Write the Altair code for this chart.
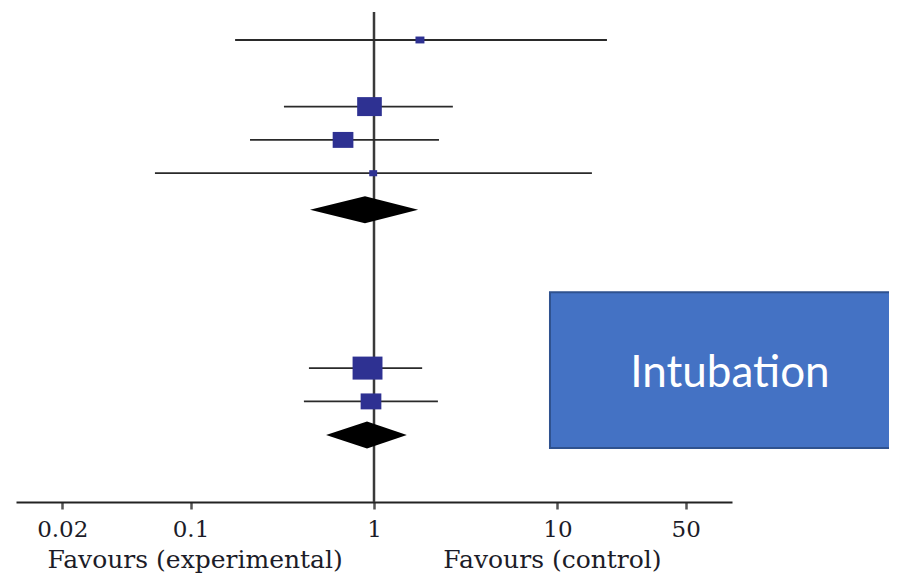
import altair as alt
import pandas as pd

# ---- data ----
study_row = [0, 2, 3, 4, 9.85, 10.85]
study_est = [1.78, 0.945, 0.678, 0.99, 0.922, 0.963]
study_lo = [0.175, 0.323, 0.211, 0.064, 0.442, 0.415]
study_hi = [18.6, 2.69, 2.26, 15.4, 1.83, 2.23]
study_weight = [9, 68, 48, 7, 100, 48]

pooled_row = [5.1, 11.86]
pooled_est = [0.893, 0.916]
pooled_lo = [0.448, 0.548]
pooled_hi = [1.74, 1.51]

tick_values = [0.02, 0.1, 1, 10, 50]
side_labels = ["Favours (experimental)", "Favours (control)"]
side_label_x = [0.106, 9.39]
side_label_row = [15.85, 15.85]

annotation_text = ["Intubation"]
annotation_x = [9.10, 736.0]
annotation_rows = [7.57, 12.25]
annotation_text_pos = [87.1, 10.41]

null_value = [1.0]
null_rows = [-0.84, 13.87]

# ---- tables ----
studies = pd.DataFrame({"row": study_row, "est": study_est, "lo": study_lo,
                        "hi": study_hi, "w": study_weight})

dia_h = 0.405
dia_records = []
for i, (r, e, l, h) in enumerate(zip(pooled_row, pooled_est, pooled_lo, pooled_hi)):
    dia_records += [
        {"g": i, "x": l, "y1": r, "y2": r},
        {"g": i, "x": e, "y1": r - dia_h, "y2": r + dia_h},
        {"g": i, "x": h, "y1": r, "y2": r},
    ]
diamonds = pd.DataFrame(dia_records)

labels = pd.DataFrame({"x": side_label_x, "row": side_label_row, "t": side_labels})
ref = pd.DataFrame({"x": null_value, "y1": [null_rows[0]], "y2": [null_rows[1]]})
box = pd.DataFrame({"x1": [annotation_x[0]], "x2": [annotation_x[1]],
                    "y1": [annotation_rows[0]], "y2": [annotation_rows[1]]})
box_txt = pd.DataFrame({"x": [annotation_text_pos[0]], "row": [annotation_text_pos[1]],
                        "t": annotation_text})

# ---- scales / axis ----
xs = alt.Scale(type="log", domain=[0.011194, 89.33], nice=False)
ys = alt.Scale(domain=[-0.96, 13.87], reverse=True, nice=False, zero=False)
xaxis = alt.Axis(values=tick_values, title=None, grid=False,
                 labelFont="DejaVu Serif", labelFontSize=23, labelColor="#1c1c28",
                 labelPadding=9, labelFlush=False, labelOverlap=False,
                 tickSize=7, tickWidth=2.5, tickColor="#555555",
                 domainColor="#222222", domainWidth=2,
                 format="~g")

def X(field):
    return alt.X(field, type="quantitative", scale=xs, axis=xaxis)

def Y(field):
    return alt.Y(field, type="quantitative", scale=ys, axis=None)

ref_line = alt.Chart(ref).mark_rule(color="#3a3a3a", strokeWidth=2.5).encode(
    x=X("x"), y=Y("y1"), y2="y2")

ci = alt.Chart(studies).mark_rule(color="#2a2a2a", strokeWidth=1.8).encode(
    x=X("lo"), x2="hi", y=Y("row"))

boxes = alt.Chart(studies).mark_point(
    shape="M-1.3,-1H1.3V1H-1.3Z", filled=True, color="#2e3192",
    opacity=1, strokeWidth=0).encode(
    x=X("est"), y=Y("row"),
    size=alt.Size("w:Q", scale=alt.Scale(domain=[0, 100], range=[0, 529]), legend=None))

dia = alt.Chart(diamonds).mark_area(color="black", interpolate="linear").encode(
    x=X("x"), y=Y("y1"), y2="y2", detail="g:N")

side = alt.Chart(labels).mark_text(font="DejaVu Serif", fontSize=25, color="#1c1c28",
                                   align="center", baseline="alphabetic").encode(
    x=X("x"), y=Y("row"), text="t")

annot = alt.Chart(box).mark_rect(fill="#4472c4", stroke="#2f528f", strokeWidth=2).encode(
    x=X("x1"), x2="x2", y=Y("y1"), y2="y2")

annot_txt = alt.Chart(box_txt).mark_text(font="Lato", fontSize=44, color="white",
                                         align="center", baseline="alphabetic").encode(
    x=X("x"), y=Y("row"), text="t")

chart = alt.layer(ref_line, ci, boxes, dia, side, annot, annot_txt).properties(
    width=716, height=494,
    autosize=alt.AutoSizeParams(type="none"),
    padding={"left": 8, "top": 0, "right": 157, "bottom": 73},
    background="white",
).configure_view(stroke=None)

chart.save("out.html", embed_options={"renderer": "svg", "actions": False})
